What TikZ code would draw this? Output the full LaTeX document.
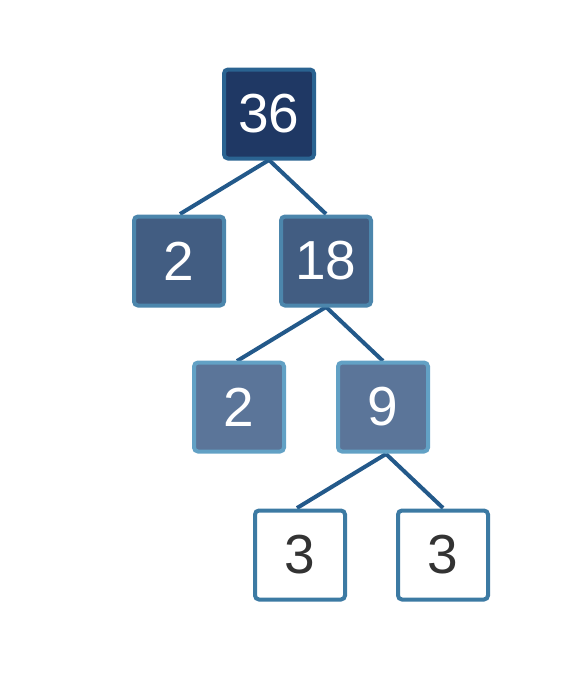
\documentclass[tikz,border=0pt]{standalone}
\usepackage{fontspec}
\setmainfont{Liberation Sans}
\definecolor{edgec}{HTML}{23598A}
\definecolor{fa}{HTML}{1F3864}
\definecolor{ba}{HTML}{2A6391}
\definecolor{fb}{HTML}{425D82}
\definecolor{bb}{HTML}{4C86AC}
\definecolor{fc}{HTML}{5B7599}
\definecolor{bc}{HTML}{62A1C5}
\definecolor{bd}{HTML}{3C7AA3}
\definecolor{td}{HTML}{333333}
\tikzset{
  box/.style={rectangle, rounded corners=4pt, line width=4pt, minimum width=90pt, minimum height=89pt, inner sep=0pt, font=\fontsize{55}{55}\selectfont},
  lvla/.style={box, fill=fa, draw=ba, text=white},
  lvlb/.style={box, fill=fb, draw=bb, text=white},
  lvlc/.style={box, fill=fc, draw=bc, text=white},
  lvld/.style={box, fill=white, draw=bd, text=td},
  edge/.style={draw=edgec, line width=4pt}
}
\begin{document}
\begin{tikzpicture}[x=1pt,y=-1pt]
\useasboundingbox (0,0) rectangle (571,688);
\coordinate (c1) at (180,214);
\coordinate (c2) at (326,214);
\coordinate (c3) at (237,361);
\coordinate (c4) at (383,361);
\coordinate (c5) at (297,508);
\coordinate (c6) at (443,508);
\draw[edge] (269,160) coordinate (p1) -- (c1);
\draw[edge] (p1) -- (c2);
\draw[edge] (326,307) coordinate (p2) -- (c3);
\draw[edge] (p2) -- (c4);
\draw[edge] (386,454) coordinate (p3) -- (c5);
\draw[edge] (p3) -- (c6);
\node[lvla] (n36) at (269,114) {36};
\node[lvlb] (n2a) at (179,261) {2};
\node[lvlb] (n18) at (326,261) {18};
\node[lvlc] (n2b) at (239,407) {2};
\node[lvlc] (n9) at (383,407) {9};
\node[lvld] (n3a) at (300,555) {3};
\node[lvld] (n3b) at (443,555) {3};
\end{tikzpicture}
\end{document}
